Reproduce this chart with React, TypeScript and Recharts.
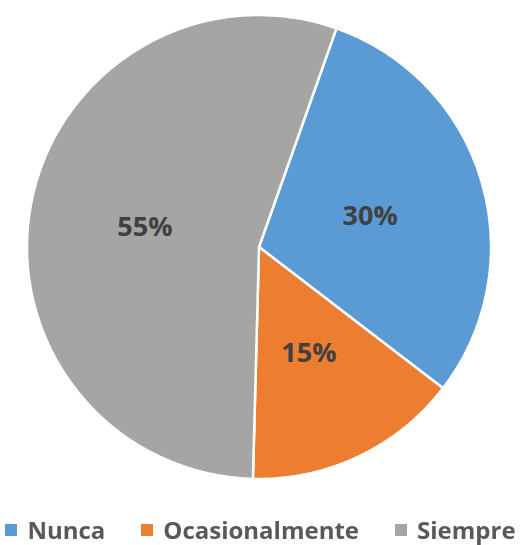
import React from 'react';
import { PieChart, Pie, Cell, Legend } from 'recharts';

const categories = ['Nunca', 'Ocasionalmente', 'Siempre'];
const values = [30, 15, 55];
const colors = ['#5B9BD5', '#ED7D31', '#A5A5A5'];

const data = categories.map((name, i) => ({ name, value: values[i] }));

const FONT = '"Open Sans", Lato, sans-serif';
const RADIAN = Math.PI / 180;

const renderLabel = ({ cx, cy, midAngle, outerRadius, percent }: any) => {
  const r = outerRadius * 0.5;
  const x = cx + r * Math.cos(-midAngle * RADIAN);
  const y = cy + r * Math.sin(-midAngle * RADIAN);
  return (
    <text
      x={x}
      y={y}
      textAnchor="middle"
      dominantBaseline="central"
      fill="#404040"
      fontFamily={FONT}
      fontWeight={700}
      fontSize={27}
    >
      {`${Math.round(percent * 100)}%`}
    </text>
  );
};

const CustomLegend = ({ payload }: any) => (
  <div style={{ display: 'flex', justifyContent: 'center', alignItems: 'center', fontFamily: FONT }}>
    {payload.map((entry: any, i: number) => (
      <div key={i} style={{ display: 'flex', alignItems: 'center', marginRight: i < payload.length - 1 ? 36 : 0 }}>
        <span style={{ display: 'inline-block', width: 12, height: 12, background: entry.color, marginRight: 10 }} />
        <span style={{ fontSize: 24, fontWeight: 700, color: '#595959', lineHeight: '28px' }}>{entry.value}</span>
      </div>
    ))}
  </div>
);

export default function App() {
  return (
    <div style={{ position: 'fixed', left: 0, top: 0, width: 521, height: 545, background: '#fff' }}>
      <PieChart width={521} height={545} margin={{ top: 0, right: 0, bottom: 0, left: 0 }}>
        <Pie
          data={data}
          dataKey="value"
          nameKey="name"
          cx={259}
          cy={247}
          outerRadius={232}
          startAngle={70.5}
          endAngle={-289.5}
          stroke="#ffffff"
          strokeWidth={2.5}
          label={renderLabel}
          labelLine={false}
          isAnimationActive={false}
        >
          {data.map((d, i) => (
            <Cell key={d.name} fill={colors[i]} />
          ))}
        </Pie>
        <Legend content={<CustomLegend />} wrapperStyle={{ top: 516, left: 0, width: 521 }} />
      </PieChart>
    </div>
  );
}
